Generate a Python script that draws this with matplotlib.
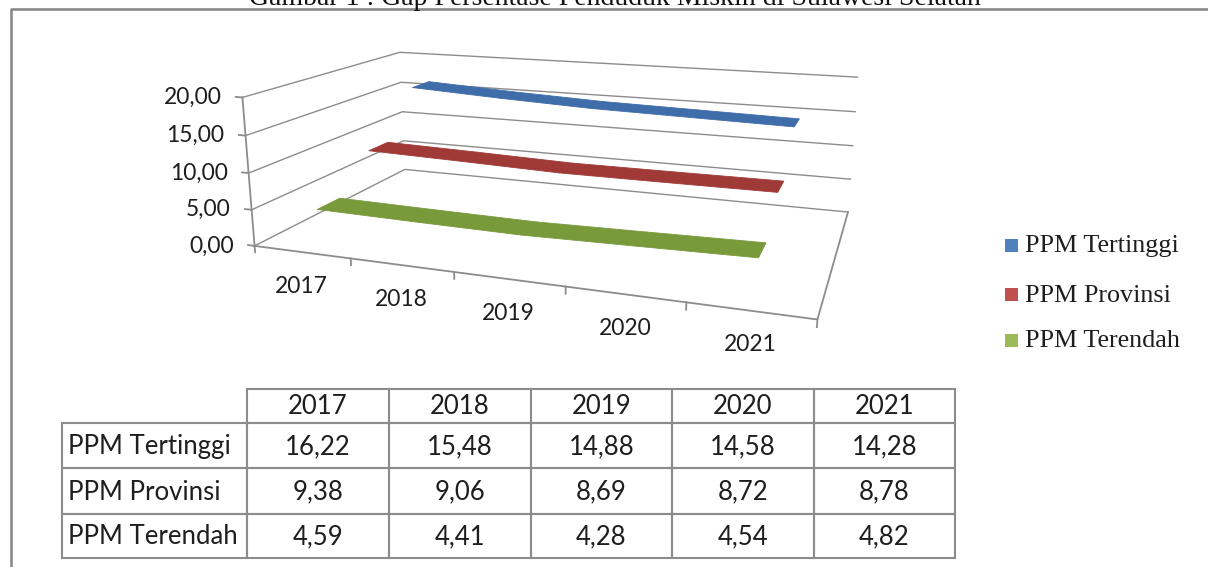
import numpy as np
import matplotlib
matplotlib.use("Agg")
import matplotlib.pyplot as plt
from matplotlib.patches import Rectangle
from mpl_toolkits.mplot3d.art3d import Poly3DCollection

W, H = 1208, 567

title = "Gambar 1 : Gap Persentase Penduduk Miskin di Sulawesi Selatan"
years = ["2017", "2018", "2019", "2020", "2021"]
series_names = ["PPM Tertinggi", "PPM Provinsi", "PPM Terendah"]
ppm_tertinggi = [16.22, 15.48, 14.88, 14.58, 14.28]
ppm_provinsi = [9.38, 9.06, 8.69, 8.72, 8.78]
ppm_terendah = [4.59, 4.41, 4.28, 4.54, 4.82]
y_ticks = [0, 5, 10, 15, 20]

series_values = [ppm_tertinggi, ppm_provinsi, ppm_terendah]
legend_colors = ["#4F81BD", "#C0504D", "#9BBB59"]
ribbon_colors = ["#3F6DA9", "#A03A37", "#789A3B"]
grid_c = "#8c8c8c"
text_c = "#1e1e1e"
sans = "Lato"
serif = "Liberation Serif"


def fmt(v):
    return f"{v:.2f}".replace(".", ",")


fig = plt.figure(figsize=(W / 100, H / 100), dpi=100)

# perspective 3-D line chart: categories along x, series along depth (y), value up (z)
ax = fig.add_axes([0.2090, 0.1669, 0.5056, 1.0773], projection="3d")
ax.set_xlim(0, len(years))
ax.set_ylim(0, len(series_names))
ax.set_zlim(y_ticks[0], y_ticks[-1])
ax.view_init(elev=14.398, azim=-70.433, roll=0.065)
ax.set_proj_type("persp", focal_length=0.3067)
ax.set_box_aspect((1.0, 0.5686, 0.2743))
ax.set_axis_off()
ax.apply_aspect()

nx, nd = len(years), len(series_names)
zmax = y_ticks[-1]

# walls: gridlines on the side and back walls
for z in y_ticks:
    ax.plot([0, 0, nx], [0, nd, nd], [z, z, z], color=grid_c, lw=1.0, clip_on=False)
# value axis, category axis and floor edge
ax.plot([0, 0], [0, 0], [0, zmax], color=grid_c, lw=1.3, clip_on=False)
ax.plot([0, nx, nx], [0, 0, nd], [0, 0, 0], color=grid_c, lw=1.3, clip_on=False)
for z in y_ticks:
    ax.plot([0, -0.07], [0, 0], [z, z], color=grid_c, lw=1.3, clip_on=False)
for xb in range(nx + 1):
    ax.plot([xb, xb], [0, 0], [0, -0.9], color=grid_c, lw=1.3, clip_on=False)

# ribbons, one per series, back to front
xs = np.arange(nx) + 0.5
half = 0.2
for k, (vals, c) in enumerate(zip(series_values, ribbon_colors)):
    d = nd - 0.5 - k
    quads = []
    for i in range(nx - 1):
        quads.append([(xs[i], d - half, vals[i]), (xs[i + 1], d - half, vals[i + 1]),
                      (xs[i + 1], d + half, vals[i + 1]), (xs[i], d + half, vals[i])])
    pc = Poly3DCollection(quads, facecolor=c, edgecolor=c, linewidth=0.6)
    pc.set_clip_on(False)
    ax.add_collection3d(pc)

M = ax.get_proj()


def to_px(x, y, z):
    v = M @ np.array([x, y, z, 1.0])
    d = ax.transData.transform((v[0] / v[3], v[1] / v[3]))
    return d[0], H - d[1]


# overlay in pixel coordinates for labels, legend, table and frame
ov = fig.add_axes([0, 0, 1, 1])
ov.set_xlim(0, W)
ov.set_ylim(H, 0)
ov.set_axis_off()

for i, yr in enumerate(years):
    px, py = to_px(xs[i], 0, 0)
    ov.text(px, py + 34, yr, ha="center", va="center", fontsize=16.5, family=sans,
            color=text_c)
for z in y_ticks:
    px, py = to_px(0, 0, z)
    ov.text(px - 21, py, fmt(z), ha="right", va="center", fontsize=16.5, family=sans,
            color=text_c)

# outer frame and caption
ov.plot([10.5, 10.5, W + 5], [H + 5, 8.5, 8.5], color="#8a8a8a", lw=1.9,
        clip_on=False, solid_capstyle="butt")
ov.text(615, 5, title, ha="center", va="baseline", fontsize=20, family=serif,
        color="#111111", clip_on=False)

# legend
leg_base = [252, 301.5, 347]
for name, c, yb in zip(series_names, legend_colors, leg_base):
    ov.add_patch(Rectangle((1004.5, yb - 13.5), 13, 13, facecolor=c, edgecolor="none"))
    ov.text(1025, yb, name, ha="left", va="baseline", fontsize=18.8, family=serif,
            color=text_c)

# data table
col_edges = [62, 247, 389, 531, 672, 814, 955]
row_edges = [389, 423, 468, 514, 558]
tbl_lw = 1.5
for j in range(nx):
    x0, x1 = col_edges[j + 1], col_edges[j + 2]
    ov.add_patch(Rectangle((x0, row_edges[0]), x1 - x0, row_edges[1] - row_edges[0],
                           fill=False, edgecolor=grid_c, lw=tbl_lw))
    ov.text((x0 + x1) / 2, (row_edges[0] + row_edges[1]) / 2 + 1, years[j], ha="center",
            va="center", fontsize=18.5, family=sans, color=text_c)
for r, (name, vals) in enumerate(zip(series_names, series_values)):
    y0, y1 = row_edges[r + 1], row_edges[r + 2]
    ym = (y0 + y1) / 2 + 1
    ov.add_patch(Rectangle((col_edges[0], y0), col_edges[1] - col_edges[0], y1 - y0,
                           fill=False, edgecolor=grid_c, lw=tbl_lw))
    ov.text(col_edges[0] + 6, ym, name, ha="left", va="center", fontsize=18.5,
            family=sans, color=text_c)
    for j in range(nx):
        x0, x1 = col_edges[j + 1], col_edges[j + 2]
        ov.add_patch(Rectangle((x0, y0), x1 - x0, y1 - y0, fill=False,
                               edgecolor=grid_c, lw=tbl_lw))
        ov.text((x0 + x1) / 2, ym, fmt(vals[j]), ha="center", va="center",
                fontsize=18.5, family=sans, color=text_c)

fig.savefig("out.png", dpi=100)
